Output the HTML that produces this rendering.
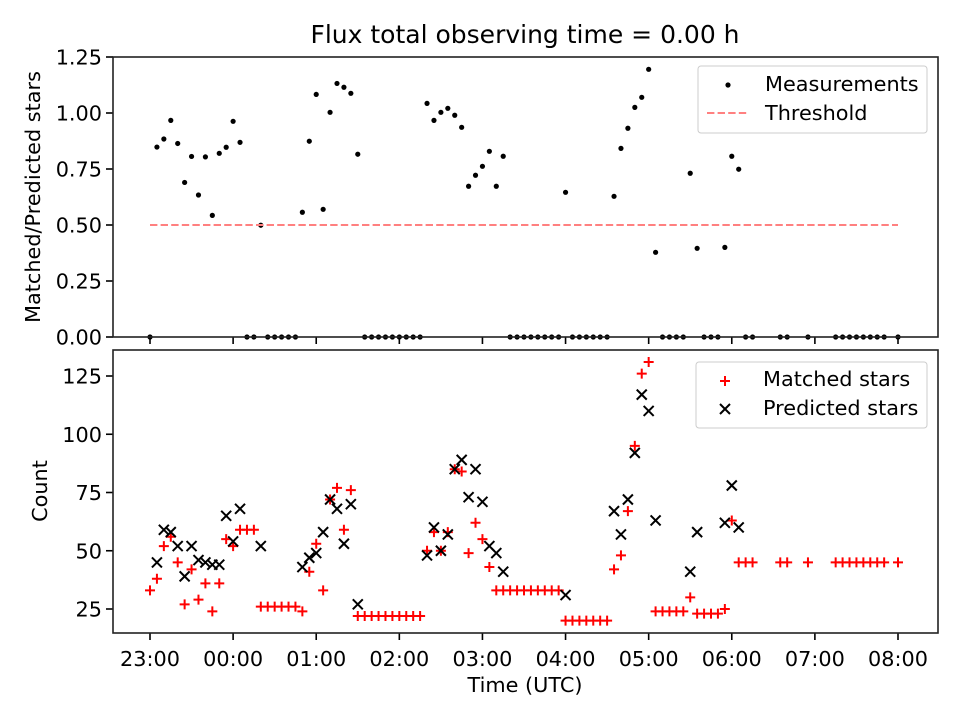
<!DOCTYPE html>
<html><head><meta charset="utf-8"><style>
html,body{margin:0;padding:0;background:#fff;}
svg{display:block;font-family:"DejaVu Sans","Liberation Sans",sans-serif;}
</style></head><body>
<svg id="chart" width="960" height="720" viewBox="0 0 960 720" xmlns="http://www.w3.org/2000/svg">
<rect width="960" height="720" fill="#fff"/>
<text x="525" y="43" font-size="25" text-anchor="middle">Flux total observing time = 0.00 h</text>
<g id="topPanel"></g>
<g id="botPanel"></g>
<text transform="translate(40,197) rotate(-90)" font-size="20.8" text-anchor="middle">Matched/Predicted stars</text>
<text transform="translate(47,491) rotate(-90)" font-size="20.8" text-anchor="middle">Count</text>
<text x="525" y="692" font-size="20.8" text-anchor="middle">Time (UTC)</text>
<g id="legends">
<g>
<rect x="698" y="66" width="229" height="67" rx="3" fill="#fff" fill-opacity="0.8" stroke="#ccc"/>
<circle cx="728" cy="85" r="2.6" fill="#000"/>
<text x="765" y="91" font-size="20.8">Measurements</text>
<line x1="707" y1="113" x2="748" y2="113" stroke="#ff8080" stroke-width="2" stroke-dasharray="7.4,3.2"/>
<text x="765" y="120" font-size="20.8">Threshold</text>
</g>
<g>
<rect x="696" y="362" width="231" height="66" rx="3" fill="#fff" fill-opacity="0.8" stroke="#ccc"/>
<path d="M720 381h10M725 376v10" stroke="red" stroke-width="2"/>
<text x="763" y="386" font-size="20.8">Matched stars</text>
<path d="M720 404l10 10M730 404l-10 10" stroke="#000" stroke-width="2"/>
<text x="763" y="415" font-size="20.8">Predicted stars</text>
</g>
</g>
</svg>
<script>
const N=null;
const ratio=[0,.848,.884,.967,.864,.69,.806,.634,.804,.543,.82,.847,.963,.869,0,0,.499,0,0,0,0,0,
.557,.874,1.083,.57,1.003,1.132,1.115,1.088,.816,0,0,0,0,0,0,0,0,0,
1.043,.967,1.003,1.021,.99,.936,.673,.722,.762,.829,.673,.807,0,0,0,0,0,0,0,0,.646,0,0,0,0,0,0,
.628,.842,.932,1.025,1.07,1.195,.378,0,0,0,0,.731,.396,0,0,0,.4,.807,.749,0,0,N,N,N,0,0,N,N,0,N,N,N,0,0,0,0,0,0,0,0,N,0];
const matched=[33,38,52,56,45,27,42,29,36,24,36,55,52,59,59,59,26,26,26,26,26,26,
24,41,53,33,72,77,59,76,22,22,22,22,22,22,22,22,22,22,
50,58,50,58,85,84,49,62,55,43,33,33,33,33,33,33,33,33,33,33,20,20,20,20,20,20,20,
42,48,67,95,126,131,24,24,24,24,24,30,23,23,23,23,25,63,45,45,45,N,N,N,45,45,N,N,45,N,N,N,45,45,45,45,45,45,45,45,N,45];
const predicted=[N,45,59,58,52,39,52,46,45,44,44,65,54,68,N,N,52,N,N,N,N,N,
43,47,49,58,72,68,53,70,27,N,N,N,N,N,N,N,N,N,
48,60,50,57,85,89,73,85,71,52,49,41,N,N,N,N,N,N,N,N,31,N,N,N,N,N,N,
67,57,72,92,117,110,63,N,N,N,N,41,58,N,N,N,62,78,60];
const stepMinutes=5;
const xTickLabels=["23:00","00:00","01:00","02:00","03:00","04:00","05:00","06:00","07:00","08:00"];
const ratioTicks=[0,0.25,0.5,0.75,1.0,1.25];
const countTicks=[25,50,75,100,125];
const threshold=0.5;

const NS="http://www.w3.org/2000/svg";
const L=113,R=938;
const xs=m=>150+m*(748/540);
const yTop=v=>337-v*224;
const yBot=v=>609-(v-25)*2.33;
function mk(parent,tag,attrs){const e=document.createElementNS(NS,tag);for(const k in attrs)e.setAttribute(k,attrs[k]);parent.appendChild(e);return e;}
const gTop=document.getElementById('topPanel'),gBot=document.getElementById('botPanel');

function axes(g,b,ticks,yf,fmt,labelX){
  xTickLabels.forEach((lab,i)=>{
    const px=xs(i*60);
    const tk=mk(g,'line',{x1:px,x2:px,y1:b,y2:b+7,stroke:'#000','stroke-width':1.6});
    
    
    if(labelX){const tx=mk(g,'text',{x:px,y:b+33,'font-size':20.8,'text-anchor':'middle'});tx.textContent=lab;
      
      }
  });
  ticks.forEach(v=>{
    const py=yf(v);
    const tk=mk(g,'line',{x1:L-7,x2:L,y1:py,y2:py,stroke:'#000','stroke-width':1.6});
    
    
    const tx=mk(g,'text',{x:L-11,y:py+7.5,'font-size':20.8,'text-anchor':'end'});tx.textContent=fmt(v);
    
    
  });
}
ratio.forEach((v,i)=>{ if(v===null)return;
  const c=mk(gTop,'circle',{cx:xs(i*stepMinutes),cy:yTop(v),r:2.6,fill:'#000'});
  
  
});
const th=mk(gTop,'line',{x1:xs(0),x2:xs(540),y1:yTop(threshold),y2:yTop(threshold),stroke:'#ff8080','stroke-width':2,'stroke-dasharray':'7.4,3.2'});


axes(gTop,337,ratioTicks,yTop,v=>v.toFixed(2),false);
const f1=mk(gTop,'rect',{x:L,y:57,width:R-L,height:280,fill:'none',stroke:'#222','stroke-width':1.6});


matched.forEach((v,i)=>{ if(v===null)return;
  const px=xs(i*stepMinutes),py=yBot(v);
  const p=mk(gBot,'path',{d:`M${px-5} ${py}h10M${px} ${py-5}v10`,stroke:'red','stroke-width':2});
  
  
});
predicted.forEach((v,i)=>{ if(v===null)return;
  const px=xs(i*stepMinutes),py=yBot(v);
  const p=mk(gBot,'path',{d:`M${px-5} ${py-5}l10 10M${px+5} ${py-5}l-10 10`,stroke:'#000','stroke-width':2});
  
  
});
axes(gBot,633,countTicks,yBot,v=>String(v),true);
const f2=mk(gBot,'rect',{x:L,y:350,width:R-L,height:283,fill:'none',stroke:'#222','stroke-width':1.6});


</script>
</body></html>
